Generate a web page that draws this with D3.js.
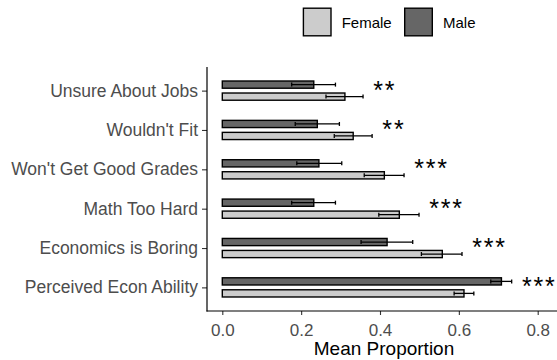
<!DOCTYPE html>
<html>
<head>
<meta charset="utf-8">
<script src="https://cdn.jsdelivr.net/npm/d3@7"></script>
<style>
  html, body { margin: 0; padding: 0; background: #fff; }
  svg { display: block; font-family: "Liberation Sans", Arial, Helvetica, sans-serif; }
</style>
</head>
<body>
<svg id="chart" width="557" height="360"></svg>
<script>
// Reasons for not studying economics, by gender
const categories = [
  "Unsure About Jobs",
  "Wouldn't Fit",
  "Won't Get Good Grades",
  "Math Too Hard",
  "Economics is Boring",
  "Perceived Econ Ability"
];
const groups = ["Male", "Female"];
const maleMean   = [0.232, 0.241, 0.245, 0.232, 0.418, 0.708];
const maleLow    = [0.176, 0.185, 0.189, 0.176, 0.352, 0.681];
const maleHigh   = [0.287, 0.297, 0.303, 0.287, 0.483, 0.734];
const femaleMean = [0.311, 0.332, 0.411, 0.449, 0.558, 0.613];
const femaleLow  = [0.263, 0.284, 0.360, 0.397, 0.505, 0.588];
const femaleHigh = [0.357, 0.380, 0.461, 0.499, 0.608, 0.638];
const significance = ["**", "**", "***", "***", "***", "***"];
const xTicks = [0, 0.2, 0.4, 0.6, 0.8];
const legendOrder = ["Female", "Male"];

const fills = { Male: "#666666", Female: "#cccccc" };

const rows = categories.flatMap((c, i) => [
  { cat: c, group: "Male", mean: maleMean[i], lo: maleLow[i], hi: maleHigh[i] },
  { cat: c, group: "Female", mean: femaleMean[i], lo: femaleLow[i], hi: femaleHigh[i] }
]);

const svg = d3.select("#chart");

const panel = { left: 207, top: 67, bottom: 311, right: 600 };

const x = d3.scaleLinear().domain([0, 0.8]).range([222.3, 537.7]);
const y = d3.scalePoint().domain(categories).range([panel.top, panel.bottom]).padding(0.6);
const sub = d3.scaleBand().domain(groups).range([-9.6, 9.6]).paddingInner(0.4);

// Axes
const xAxis = d3.axisBottom(x).tickValues(xTicks).tickFormat(d3.format(".1f")).tickSize(4).tickSizeOuter(0);
const gx = svg.append("g").attr("transform", `translate(0,${panel.bottom})`).call(xAxis);
gx.select(".domain").remove();
gx.selectAll(".tick line").attr("stroke", "#333").attr("stroke-width", 1.1);
gx.selectAll(".tick text").attr("fill", "#4d4d4d").attr("font-size", 17).attr("dy", "1.05em");

const yAxis = d3.axisLeft(y).tickSize(5).tickPadding(4).tickSizeOuter(0);
const gy = svg.append("g").attr("transform", `translate(${panel.left},0)`).call(yAxis);
gy.select(".domain").remove();
gy.selectAll(".tick line").attr("stroke", "#333").attr("stroke-width", 1.1);
gy.selectAll(".tick text").attr("fill", "#4d4d4d").attr("font-size", 17.5);

svg.append("line")
  .attr("x1", panel.left).attr("x2", panel.left)
  .attr("y1", panel.top).attr("y2", panel.bottom + 0.5)
  .attr("stroke", "#000").attr("stroke-width", 1.2);
svg.append("line")
  .attr("x1", panel.left - 0.5).attr("x2", panel.right)
  .attr("y1", panel.bottom).attr("y2", panel.bottom)
  .attr("stroke", "#000").attr("stroke-width", 1.2);

// Bars
svg.append("g").selectAll("rect").data(rows).join("rect")
  .attr("x", x(0))
  .attr("y", d => y(d.cat) + sub(d.group))
  .attr("width", d => x(d.mean) - x(0))
  .attr("height", sub.bandwidth())
  .attr("fill", d => fills[d.group])
  .attr("stroke", "#000")
  .attr("stroke-width", 1.4);

// Error bars
const eb = svg.append("g").selectAll("g").data(rows).join("g")
  .attr("transform", d => `translate(0,${y(d.cat) + sub(d.group) + sub.bandwidth() / 2})`)
  .attr("stroke", "#000").attr("stroke-width", 1.3);
eb.append("line").attr("x1", d => x(d.lo)).attr("x2", d => x(d.hi)).attr("y1", 0).attr("y2", 0);
eb.append("line").attr("x1", d => x(d.lo)).attr("x2", d => x(d.lo)).attr("y1", -2).attr("y2", 2);
eb.append("line").attr("x1", d => x(d.hi)).attr("x2", d => x(d.hi)).attr("y1", -2).attr("y2", 2);

// Significance stars, level with the male bar, just past the longer error bar
svg.append("g").selectAll("text").data(categories).join("text")
  .attr("x", (c, i) => x(Math.max(maleHigh[i], femaleHigh[i]) + 0.026))
  .attr("y", c => y(c) + sub("Male") + sub.bandwidth() / 2 + 14)
  .attr("text-anchor", "start")
  .attr("font-size", 25)
  .attr("letter-spacing", 1.8)
  .attr("fill", "#000")
  .text((c, i) => significance[i]);

// Axis title
svg.append("text")
  .attr("x", 384).attr("y", 355)
  .attr("text-anchor", "middle")
  .attr("font-size", 19)
  .attr("fill", "#000")
  .text("Mean Proportion");

// Legend
const legendX = { Female: 302.7, Male: 404 };
const lg = svg.append("g").selectAll("g").data(legendOrder).join("g")
  .attr("transform", d => `translate(${legendX[d]},7.5)`);
lg.append("rect")
  .attr("x", 0.7).attr("y", 0.7)
  .attr("width", 27.6).attr("height", 27.6)
  .attr("fill", d => fills[d])
  .attr("stroke", "#000").attr("stroke-width", 1.4);
lg.append("text")
  .attr("x", 39).attr("y", 20)
  .attr("font-size", 15)
  .attr("fill", "#000")
  .text(d => d);
</script>
</body>
</html>
